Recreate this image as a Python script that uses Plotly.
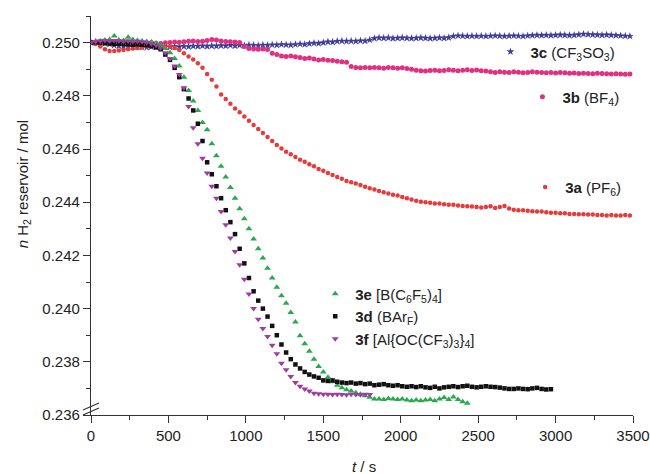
import plotly.graph_objects as go

# ---------------- data (n H2 in reservoir / mol, sampled every T_STEP s) ----------------
T_STEP = 30

y_3c = [0.25000, 0.25002, 0.25000, 0.24997, 0.24994, 0.24990, 0.24988, 0.24986, 0.24985, 0.24984,
        0.24985, 0.24983, 0.24982, 0.24984, 0.24983, 0.24982, 0.24984, 0.24983, 0.24985, 0.24984,
        0.24986, 0.24985, 0.24987, 0.24986, 0.24988, 0.24986, 0.24988, 0.24987, 0.24989, 0.24988,
        0.24990, 0.24988, 0.24990, 0.24989, 0.24991, 0.24990, 0.24989, 0.24991, 0.24990, 0.24992,
        0.24991, 0.24993, 0.24992, 0.24991, 0.24993, 0.24995, 0.24993, 0.24996, 0.24998, 0.24997,
        0.25000, 0.25003, 0.25002, 0.25005, 0.25006, 0.25005, 0.25006, 0.25005, 0.25007, 0.25006,
        0.25010, 0.25016, 0.25018, 0.25017, 0.25018, 0.25016, 0.25017, 0.25018, 0.25017, 0.25016,
        0.25017, 0.25018, 0.25017, 0.25016, 0.25017, 0.25018, 0.25017, 0.25019, 0.25024, 0.25026,
        0.25025, 0.25024, 0.25025, 0.25024, 0.25025, 0.25024, 0.25025, 0.25026, 0.25025, 0.25024,
        0.25025, 0.25026, 0.25025, 0.25024, 0.25026, 0.25027, 0.25028, 0.25027, 0.25028, 0.25027,
        0.25028, 0.25029, 0.25028, 0.25027, 0.25028, 0.25030, 0.25032, 0.25031, 0.25030, 0.25029,
        0.25028, 0.25029, 0.25028, 0.25027, 0.25026, 0.25025, 0.25024]

y_3b = [0.25000, 0.25003, 0.25005, 0.25006, 0.25005, 0.25004, 0.25006, 0.25005, 0.25003, 0.25002,
        0.25000, 0.24998, 0.24999, 0.25000, 0.24998, 0.24997, 0.24999, 0.25000, 0.25002, 0.25001,
        0.25003, 0.25005, 0.25006, 0.25004, 0.25005, 0.25008, 0.25012, 0.25010, 0.25006, 0.25004,
        0.25003, 0.25002, 0.25000, 0.24985, 0.24978, 0.24976, 0.24975, 0.24976, 0.24974, 0.24960,
        0.24955, 0.24950, 0.24948, 0.24950, 0.24947, 0.24944, 0.24940, 0.24942, 0.24938, 0.24935,
        0.24936, 0.24934, 0.24933, 0.24930, 0.24928, 0.24926, 0.24910, 0.24906, 0.24905, 0.24906,
        0.24905, 0.24906, 0.24905, 0.24904, 0.24906, 0.24905, 0.24904, 0.24905, 0.24903, 0.24900,
        0.24896, 0.24894, 0.24893, 0.24895, 0.24896, 0.24894, 0.24895, 0.24898, 0.24896, 0.24894,
        0.24896, 0.24898, 0.24895, 0.24897, 0.24894, 0.24893, 0.24890, 0.24888, 0.24890, 0.24889,
        0.24888, 0.24890, 0.24889, 0.24887, 0.24888, 0.24890, 0.24889, 0.24888, 0.24887, 0.24888,
        0.24886, 0.24888, 0.24887, 0.24885, 0.24886, 0.24884, 0.24885, 0.24884, 0.24883, 0.24885,
        0.24884, 0.24883, 0.24882, 0.24883, 0.24882, 0.24881, 0.24882]

y_3a = [0.25000, 0.24995, 0.24985, 0.24975, 0.24968, 0.24968, 0.24970, 0.24972, 0.24975, 0.24978,
        0.24980, 0.24982, 0.24985, 0.24987, 0.24988, 0.24988, 0.24986, 0.24984,
        0.24980, 0.24972, 0.24960, 0.24948, 0.24936, 0.24922, 0.24905, 0.24882, 0.24860, 0.24835,
        0.24805, 0.24788, 0.24770, 0.24752, 0.24738, 0.24722, 0.24706, 0.24690, 0.24675, 0.24660,
        0.24645, 0.24630, 0.24615, 0.24602, 0.24590, 0.24580, 0.24570, 0.24560, 0.24552, 0.24543,
        0.24535, 0.24525, 0.24518, 0.24510, 0.24502, 0.24495, 0.24488, 0.24480, 0.24475, 0.24470,
        0.24465, 0.24458, 0.24452, 0.24448, 0.24442, 0.24437, 0.24433, 0.24428, 0.24425, 0.24420,
        0.24415, 0.24410, 0.24405, 0.24402, 0.24400, 0.24398, 0.24395, 0.24395, 0.24392, 0.24390,
        0.24390, 0.24388, 0.24386, 0.24385, 0.24384, 0.24382, 0.24380, 0.24382, 0.24385, 0.24378,
        0.24382, 0.24386, 0.24376, 0.24372, 0.24370, 0.24370, 0.24368, 0.24366, 0.24365, 0.24365,
        0.24362, 0.24360, 0.24360, 0.24358, 0.24358, 0.24356, 0.24356, 0.24355, 0.24355, 0.24354,
        0.24354, 0.24352, 0.24352, 0.24350, 0.24352, 0.24350, 0.24350, 0.24352, 0.24350]

y_3e = [0.25000, 0.25003, 0.25006, 0.25010, 0.25012, 0.25025, 0.25010, 0.25008, 0.25020, 0.25012,
        0.25008, 0.25006, 0.25004, 0.25002, 0.24998, 0.24990, 0.24978, 0.24962, 0.24940, 0.24912,
        0.24870, 0.24820, 0.24780, 0.24745, 0.24700, 0.24672, 0.24620, 0.24575, 0.24535, 0.24495,
        0.24455, 0.24415, 0.24375, 0.24338, 0.24300, 0.24262, 0.24225, 0.24190, 0.24152, 0.24115,
        0.24080, 0.24048, 0.24020, 0.23985, 0.23950, 0.23898, 0.23868, 0.23840, 0.23810, 0.23782,
        0.23762, 0.23742, 0.23725, 0.23712, 0.23702, 0.23695, 0.23690, 0.23684, 0.23678, 0.23672,
        0.23667, 0.23660, 0.23660, 0.23658, 0.23662, 0.23660, 0.23658, 0.23660, 0.23656, 0.23654,
        0.23656, 0.23654, 0.23656, 0.23658, 0.23654, 0.23660, 0.23666, 0.23658, 0.23668, 0.23658,
        0.23650, 0.23644]

y_3d = [0.25000, 0.25001, 0.25000, 0.24998, 0.24996, 0.24995, 0.24996, 0.24995, 0.24994, 0.24992,
        0.24993, 0.24992, 0.24990, 0.24987, 0.24982, 0.24975, 0.24955, 0.24935, 0.24905, 0.24870,
        0.24825, 0.24790, 0.24745, 0.24695, 0.24630, 0.24550, 0.24505, 0.24460, 0.24415, 0.24370,
        0.24325, 0.24280, 0.24225, 0.24170, 0.24115, 0.24065, 0.24030, 0.24000, 0.23970, 0.23935,
        0.23900, 0.23865, 0.23835, 0.23810, 0.23790, 0.23775, 0.23762, 0.23752, 0.23745, 0.23740,
        0.23730, 0.23728, 0.23730, 0.23725, 0.23722, 0.23720, 0.23722, 0.23718, 0.23720, 0.23716,
        0.23718, 0.23712, 0.23714, 0.23716, 0.23712, 0.23710, 0.23712, 0.23708, 0.23706, 0.23708,
        0.23705, 0.23708, 0.23704, 0.23702, 0.23706, 0.23700, 0.23704, 0.23706, 0.23708, 0.23705,
        0.23708, 0.23710, 0.23706, 0.23704, 0.23706, 0.23708, 0.23706, 0.23705, 0.23703, 0.23700,
        0.23698, 0.23698, 0.23700, 0.23698, 0.23697, 0.23700, 0.23702, 0.23698, 0.23696, 0.23697]

y_3f = [0.25000, 0.25004, 0.25006, 0.25008, 0.25006, 0.25008, 0.25006, 0.25005, 0.25006, 0.25004,
        0.25005, 0.25003, 0.25000, 0.24996, 0.24990, 0.24980, 0.24962, 0.24940, 0.24912, 0.24880,
        0.24830, 0.24760, 0.24680, 0.24620, 0.24565, 0.24510, 0.24460, 0.24415, 0.24365, 0.24315,
        0.24265, 0.24215, 0.24165, 0.24110, 0.24055, 0.24000, 0.23960, 0.23925, 0.23895, 0.23862,
        0.23830, 0.23795, 0.23770, 0.23745, 0.23722, 0.23708, 0.23698, 0.23690, 0.23682, 0.23680,
        0.23678, 0.23678, 0.23677, 0.23678, 0.23677, 0.23676, 0.23678, 0.23677, 0.23676, 0.23678,
        0.23677]

names = {
    "3c": "<b>3c</b> (CF<sub>3</sub>SO<sub>3</sub>)",
    "3b": "<b>3b</b> (BF<sub>4</sub>)",
    "3a": "<b>3a</b> (PF<sub>6</sub>)",
    "3e": "<b>3e</b> [B(C<sub>6</sub>F<sub>5</sub>)<sub>4</sub>]",
    "3d": "<b>3d</b> (BAr<sub>F</sub>)",
    "3f": "<b>3f</b> [Al{OC(CF<sub>3</sub>)<sub>3</sub>}<sub>4</sub>]",
}

x_ticks = [0, 500, 1000, 1500, 2000, 2500, 3000, 3500]
y_ticks = [0.236, 0.238, 0.240, 0.242, 0.244, 0.246, 0.248, 0.250]


def times(vals):
    return [i * T_STEP for i in range(len(vals))]


series = [
    ("3c", y_3c, "#3f3f98", "star", 6, "legend"),
    ("3a", y_3a, "#e63b3b", "circle", 4.5, "legend3"),
    ("3b", y_3b, "#e0307f", "circle", 5, "legend2"),
    ("3e", y_3e, "#2aa84e", "triangle-up", 6, "legend4"),
    ("3d", y_3d, "#111111", "square", 4.5, "legend4"),
    ("3f", y_3f, "#a03ca0", "triangle-down", 6, "legend4"),
]

fig = go.Figure()
for key, vals, col, sym, sz, lg in series:
    fig.add_trace(go.Scatter(
        x=times(vals), y=vals, mode="markers", name=names[key],
        marker=dict(color=col, symbol=sym, size=sz, line=dict(width=0)),
        legend=lg,
    ))

FONT = "Liberation Sans, Arial, sans-serif"
legend_common = dict(bgcolor="rgba(0,0,0,0)", font=dict(family=FONT, size=15, color="#222"),
                     xanchor="left", yanchor="middle", tracegroupgap=0)

axis_common = dict(showgrid=False, zeroline=False, showline=True, linecolor="#333", linewidth=1.3,
                   ticks="outside", ticklen=7, tickwidth=1.3, tickcolor="#333",
                   tickfont=dict(family=FONT, size=15, color="#222"), mirror=False)

fig.update_layout(
    width=650, height=474,
    margin=dict(l=91, r=17, t=16, b=59, autoexpand=False),
    paper_bgcolor="white", plot_bgcolor="white",
    xaxis=dict(range=[0, 3500], tickvals=x_ticks, ticktext=[str(v) for v in x_ticks],
               minor=dict(dtick=250, tick0=0, ticks="outside", ticklen=4, tickcolor="#333", tickwidth=1.2),
               **axis_common),
    yaxis=dict(range=[0.236, 0.251], tickvals=y_ticks, ticktext=[f"{v:.3f}" for v in y_ticks],
               minor=dict(dtick=0.001, tick0=0.236, ticks="outside", ticklen=4, tickcolor="#333", tickwidth=1.2),
               **axis_common),
    legend=dict(x=0.737, y=0.91, **legend_common),
    legend2=dict(x=0.796, y=0.797, **legend_common),
    legend3=dict(x=0.801, y=0.571, **legend_common),
    legend4=dict(x=0.4137, y=0.247, **legend_common),
    showlegend=True,
)

# axis titles
fig.add_annotation(text="<i>t</i> / s", xref="paper", yref="paper", x=0.503, y=-0.13,
                   xanchor="center", yanchor="middle", showarrow=False,
                   font=dict(family=FONT, size=15, color="#222"))
fig.add_annotation(text="<i>n</i> H<sub>2</sub> reservoir / mol", xref="paper", yref="paper",
                   x=-0.1256, y=0.578, textangle=-90, xanchor="center", yanchor="middle",
                   showarrow=False, font=dict(family=FONT, size=15, color="#222"))

# axis break marks on the y axis
for y0, y1 in [(0.0, 0.0175), (0.0125, 0.0301)]:
    fig.add_shape(type="line", xref="paper", yref="paper", x0=-0.0148, y0=y0, x1=0.0148, y1=y1,
                  line=dict(color="#333", width=1.2))

fig.write_html("out.html", config={"displayModeBar": False},
               post_script="document.body.style.margin='0';document.body.style.overflow='hidden';")
